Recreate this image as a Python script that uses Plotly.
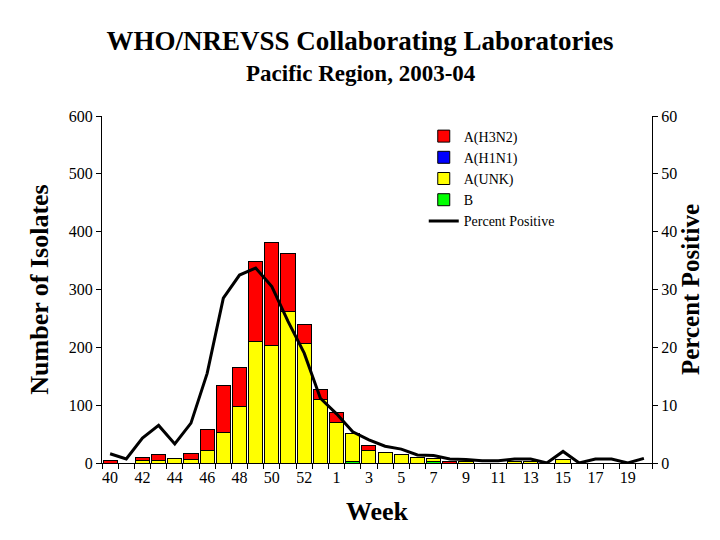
import plotly.graph_objects as go

weeks = ["40", "41", "42", "43", "44", "45", "46", "47", "48", "49", "50", "51", "52", "53",
         "1", "2", "3", "4", "5", "6", "7", "8", "9", "10", "11", "12", "13", "14", "15",
         "16", "17", "18", "19", "20"]
h3n2 = [4, 0, 5, 10, 0, 11, 36, 81, 67, 138, 179, 101, 32, 17, 17, 0, 9, 0, 0, 0, 0, 3,
        0, 0, 0, 0, 0, 0, 0, 0, 0, 0, 0, 0]
h1n1 = [0] * 34
unk = [0, 0, 4, 4, 7, 6, 22, 53, 98, 210, 203, 262, 207, 110, 70, 49, 22, 19, 15, 9, 4, 0,
       3, 0, 0, 3, 3, 0, 6, 0, 0, 0, 0, 0]
b = [0, 0, 0, 0, 0, 0, 0, 0, 0, 0, 0, 0, 0, 0, 0, 2, 0, 0, 0, 0, 3, 0,
     0, 0, 0, 0, 0, 0, 0, 0, 0, 0, 0, 0]
pct_pos = [1.6, 0.7, 4.3, 6.5, 3.3, 6.9, 15.5, 28.5, 32.5, 33.7, 30.5, 24.5, 19.0, 11.2,
           8.5, 5.4, 4.0, 2.9, 2.4, 1.4, 1.3, 0.7, 0.6, 0.4, 0.4, 0.7, 0.7, 0.0, 2.0,
           0.0, 0.7, 0.7, 0.0, 0.8]

x = list(range(len(weeks)))
FONT = "Liberation Serif"


def nz(v):
    return [val if val else None for val in v]


fig = go.Figure()
bar_specs = [("B", b, "#00ff00", 4), ("A(UNK)", unk, "#ffff00", 3),
             ("A(H1N1)", h1n1, "#0000ff", 2), ("A(H3N2)", h3n2, "#ff0000", 1)]
for name, vals, color, rank in bar_specs:
    fig.add_trace(go.Bar(x=x, y=nz(vals), name=name, legendrank=rank,
                         marker=dict(color=color, line=dict(color="black", width=1))))

fig.add_trace(go.Scatter(x=x, y=pct_pos, name="Percent Positive", yaxis="y2",
                         mode="lines", line=dict(color="black", width=3), legendrank=5))

fig.update_layout(
    width=720, height=540,
    margin=dict(l=102, r=68, t=116, b=77),
    paper_bgcolor="white", plot_bgcolor="white",
    barmode="stack", bargap=0.13,
    font=dict(family=FONT, color="black", size=16),
    title=dict(
        text="<b>WHO/NREVSS Collaborating Laboratories</b>",
        x=0.5, xanchor="center", xref="container", y=1 - 41 / 540, yanchor="middle",
        yref="container",
        font=dict(family=FONT, size=27, color="black")),
    annotations=[dict(
        text="<b>Pacific Region, 2003-04</b>", xref="paper", yref="paper",
        x=(361 - 102) / 550, y=1 + (116 - 73) / 347, xanchor="center", yanchor="middle",
        showarrow=False, font=dict(family=FONT, size=23, color="black"))],
    xaxis=dict(
        range=[-0.5, 33.5], tickmode="array", tickvals=x[::2], ticktext=weeks[::2],
        ticks="outside", ticklen=0, showline=True, linecolor="black", linewidth=1,
        showgrid=False, zeroline=False,
        minor=dict(tick0=-0.5, dtick=1, ticks="outside", ticklen=5, tickcolor="black",
                   showgrid=False),
        tickfont=dict(family=FONT, size=16),
        title=dict(text="<b>Week</b>", font=dict(family=FONT, size=26), standoff=16)),
    yaxis=dict(
        range=[0, 600], dtick=100, ticks="outside", ticklen=5, tickcolor="black",
        showline=True, linecolor="black", linewidth=1, showgrid=False, zeroline=False,
        tickfont=dict(family=FONT, size=16),
        title=dict(text="<b>Number of Isolates</b>", font=dict(family=FONT, size=26),
                   standoff=12)),
    yaxis2=dict(
        range=[0, 60], dtick=10, overlaying="y", side="right", ticks="outside", ticklen=5,
        tickcolor="black", showline=True, linecolor="black", linewidth=1, showgrid=False,
        zeroline=False, tickfont=dict(family=FONT, size=16),
        title=dict(text="<b>Percent Positive</b>", font=dict(family=FONT, size=25),
                   standoff=2)),
    legend=dict(x=0.585, y=0.987, xanchor="left", yanchor="top", bgcolor="rgba(0,0,0,0)",
                traceorder="normal",
                font=dict(family=FONT, size=14), tracegroupgap=0, itemwidth=30),
    showlegend=True,
)

fig.write_html("out.html")
